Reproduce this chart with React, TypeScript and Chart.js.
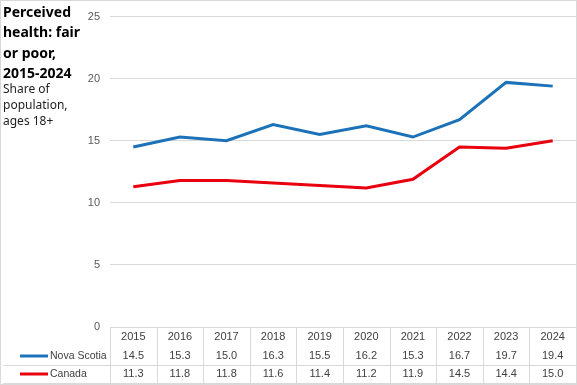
import React, { useEffect, useRef } from "react";
import { Chart, registerables } from "chart.js";

Chart.register(...registerables);

const years = ["2015", "2016", "2017", "2018", "2019", "2020", "2021", "2022", "2023", "2024"];
const novaScotia = [14.5, 15.3, 15.0, 16.3, 15.5, 16.2, 15.3, 16.7, 19.7, 19.4];
const canada = [11.3, 11.8, 11.8, 11.6, 11.4, 11.2, 11.9, 14.5, 14.4, 15.0];
const titleLines = ["Perceived", "health: fair", "or poor,", "2015-2024"];
const subtitleLines = ["Share of", "population,", "ages 18+"];
const seriesNames = ["Nova Scotia", "Canada"];
const seriesColors = ["#1C72B8", "#E8000E"];

const tablePlugin = {
  id: "dataTable",
  afterDraw(chart: any) {
    const ctx = chart.ctx;
    const x = chart.scales.x;
    const area = chart.chartArea;
    const W = chart.width;
    const H = chart.height;
    ctx.save();
    // chart border
    ctx.strokeStyle = "#d9d9d9";
    ctx.lineWidth = 1;
    ctx.strokeRect(0.5, 0.5, W - 1, H - 1);

    // title
    ctx.fillStyle = "#000000";
    ctx.textAlign = "left";
    ctx.textBaseline = "middle";
    ctx.font = "bold 14px 'Noto Sans'";
    titleLines.forEach((t, i) => ctx.fillText(t, 3, 13 + i * 20.5));
    ctx.font = "12px 'Noto Sans'";
    ctx.fillStyle = "#222222";
    subtitleLines.forEach((t, i) => ctx.fillText(t, 3, 90 + i * 16));

    // table
    const top = area.bottom;
    const rowYears = top + 9.5;
    const rowNS = top + 29;
    const rowCA = top + 47;
    const sep = top + 38;
    const bottom = top + 56;
    const step = x.getPixelForValue(1) - x.getPixelForValue(0);
    ctx.strokeStyle = "#d9d9d9";
    ctx.lineWidth = 1;
    for (let i = 0; i <= years.length; i++) {
      const px = Math.round(x.getPixelForValue(i) - step / 2) + 0.5;
      ctx.beginPath();
      ctx.moveTo(px, top);
      ctx.lineTo(px, bottom);
      ctx.stroke();
    }
    ctx.beginPath();
    ctx.moveTo(3, Math.round(sep) + 0.5);
    ctx.lineTo(W, Math.round(sep) + 0.5);
    ctx.moveTo(3, Math.round(bottom) + 0.5);
    ctx.lineTo(W, Math.round(bottom) + 0.5);
    ctx.stroke();

    ctx.font = "11px 'Liberation Sans'";
    ctx.fillStyle = "#404040";
    ctx.textAlign = "center";
    years.forEach((y, i) => {
      const px = x.getPixelForValue(i);
      ctx.fillText(y, px, rowYears);
      ctx.fillText(novaScotia[i].toFixed(1), px, rowNS);
      ctx.fillText(canada[i].toFixed(1), px, rowCA);
    });

    // legend keys
    ctx.font = "10.5px 'Liberation Sans'";
    [rowNS, rowCA].forEach((ry, k) => {
      ctx.strokeStyle = seriesColors[k];
      ctx.lineWidth = 3;
      ctx.beginPath();
      ctx.moveTo(20, ry);
      ctx.lineTo(48, ry);
      ctx.stroke();
      ctx.textAlign = "left";
      ctx.fillStyle = "#404040";
      ctx.fillText(seriesNames[k], 50, ry);
    });
    ctx.restore();
  },
};

export default function App() {
  const ref = useRef<HTMLCanvasElement>(null);
  useEffect(() => {
    if (!ref.current) return;
    const chart = new Chart(ref.current, {
      type: "line",
      data: {
        labels: years,
        datasets: [
          {
            label: seriesNames[0],
            data: novaScotia,
            borderColor: seriesColors[0],
            backgroundColor: seriesColors[0],
            borderWidth: 3,
            pointRadius: 0,
            tension: 0,
          },
          {
            label: seriesNames[1],
            data: canada,
            borderColor: seriesColors[1],
            backgroundColor: seriesColors[1],
            borderWidth: 3,
            pointRadius: 0,
            tension: 0,
          },
        ],
      },
      options: {
        animation: false,
        responsive: false,
        maintainAspectRatio: false,
        layout: { padding: { left: 0, right: 1, top: 7, bottom: 58 } },
        plugins: { legend: { display: false }, tooltip: { enabled: false }, title: { display: false } },
        scales: {
          x: {
            offset: true,
            ticks: { display: false },
            grid: { display: false, drawTicks: false },
            border: { display: true, color: "#d9d9d9", width: 1 },
            afterFit: (s: any) => {
              s.height = 0;
            },
          },
          y: {
            min: 0,
            max: 25,
            ticks: {
              stepSize: 5,
              padding: 10,
              color: "#595959",
              font: { family: "'Liberation Sans'", size: 11 },
            },
            grid: { color: "#d9d9d9", drawTicks: false },
            border: { display: false },
            afterFit: (s: any) => {
              s.width = 110;
            },
          },
        },
      },
      plugins: [tablePlugin],
    });
    return () => chart.destroy();
  }, []);
  return (
    <div style={{ position: "absolute", left: 0, top: 0, width: 577, height: 385, background: "#fff" }}>
      <canvas ref={ref} width={577} height={385} style={{ display: "block" }} />
    </div>
  );
}
